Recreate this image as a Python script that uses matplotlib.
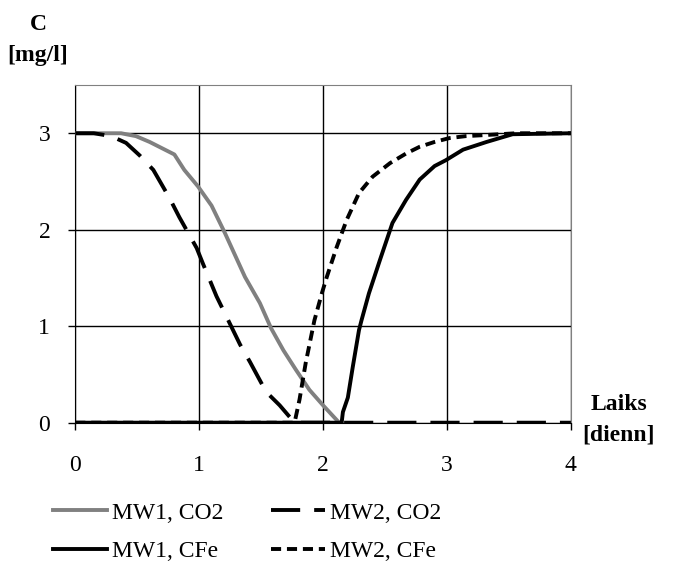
import matplotlib
matplotlib.use('Agg')
import matplotlib.pyplot as plt

plt.rcParams['font.family'] = ['Liberation Serif', 'DejaVu Serif']

# Data
mw1_co2_x = [0, 0.37, 0.49, 0.6, 0.8, 0.88, 0.99, 1.10, 1.21, 1.37, 1.49, 1.58, 1.68, 1.78, 1.89, 2.0, 2.13]
mw1_co2_y = [3, 3, 2.97, 2.91, 2.78, 2.62, 2.45, 2.25, 1.96, 1.51, 1.24, 0.98, 0.75, 0.55, 0.34, 0.18, 0.0]

mw2_co2_x = [0, 0.15, 0.29, 0.41, 0.52, 0.63, 0.76, 0.84, 0.98, 1.03, 1.14, 1.22, 1.33, 1.41, 1.54, 1.65, 1.77, 4.0]
mw2_co2_y = [3, 3, 2.97, 2.9, 2.77, 2.62, 2.33, 2.13, 1.81, 1.65, 1.31, 1.10, 0.81, 0.63, 0.32, 0.18, 0.0, 0.0]

mw1_cfe_x = [0, 2.15, 2.16, 2.2, 2.24, 2.29, 2.31, 2.37, 2.46, 2.56, 2.67, 2.78, 2.90, 2.99, 3.13, 3.32, 3.53, 4.0]
mw1_cfe_y = [0, 0, 0.11, 0.26, 0.58, 0.96, 1.06, 1.34, 1.69, 2.07, 2.31, 2.52, 2.66, 2.72, 2.83, 2.91, 2.99, 3.0]

mw2_cfe_x = [0, 1.77, 1.81, 1.86, 1.93, 1.99, 2.03, 2.11, 2.19, 2.29, 2.40, 2.54, 2.67, 2.78, 2.90, 3.02, 3.15, 3.29, 3.56, 4.0]
mw2_cfe_y = [0, 0, 0.24, 0.62, 1.06, 1.34, 1.51, 1.82, 2.10, 2.38, 2.55, 2.69, 2.79, 2.86, 2.91, 2.95, 2.97, 2.98, 3.0, 3.0]

x_ticks = [0, 1, 2, 3, 4]
y_ticks = [0, 1, 2, 3]

fig = plt.figure(figsize=(6.78, 5.66), dpi=100)
ax = fig.add_axes([0.111, 0.2532, 0.731, 0.5966])

lw = 2.8
l1, = ax.plot(mw1_co2_x, mw1_co2_y, color='#808080', lw=lw, label='MW1, CO2', zorder=3)
l3, = ax.plot(mw1_cfe_x, mw1_cfe_y, color='black', lw=lw, label='MW1, CFe', zorder=4)
l2, = ax.plot(mw2_co2_x, mw2_co2_y, color='black', lw=lw, label='MW2, CO2', zorder=5)
l2.set_dashes((7.5, 3.6))
l4, = ax.plot(mw2_cfe_x, mw2_cfe_y, color='black', lw=lw, label='MW2, CFe', zorder=6)
l4.set_dashes((2.6, 1.5))

ax.set_xlim(0, 4)
ax.set_ylim(0, 3.5)
ax.set_xticks(x_ticks)
ax.set_yticks(y_ticks)
ax.grid(True, color='black', lw=1)
ax.tick_params(direction='out', length=5, width=1, labelsize=17, color='black')
ax.tick_params(axis='y', pad=13)
ax.tick_params(axis='x', pad=18)

for side in ['top', 'right']:
    ax.spines[side].set_color('#808080')
for side in ['left', 'bottom']:
    ax.spines[side].set_color('black')

# Axis titles
fig.text(38 / 678, 1 - 25 / 566, 'C', fontsize=17, fontweight='bold', ha='center', va='center')
fig.text(38 / 678, 1 - 56 / 566, '[mg/l]', fontsize=17, fontweight='bold', ha='center', va='center')
fig.text(619 / 678, 1 - 405 / 566, 'Laiks', fontsize=17, fontweight='bold', ha='center', va='center')
fig.text(619 / 678, 1 - 435 / 566, '[dienn]', fontsize=17, fontweight='bold', ha='center', va='center')

fig.legend([l1, l3, l2, l4], ['MW1, CO2', 'MW1, CFe', 'MW2, CO2', 'MW2, CFe'],
           ncol=2, loc='upper left', bbox_to_anchor=(53 / 678, 1 - 502 / 566),
           frameon=False, fontsize=17, handlelength=2.3, handletextpad=0.2,
           columnspacing=2.0, labelspacing=0.72, borderpad=0, borderaxespad=0)

fig.savefig('out.png', dpi=100)
